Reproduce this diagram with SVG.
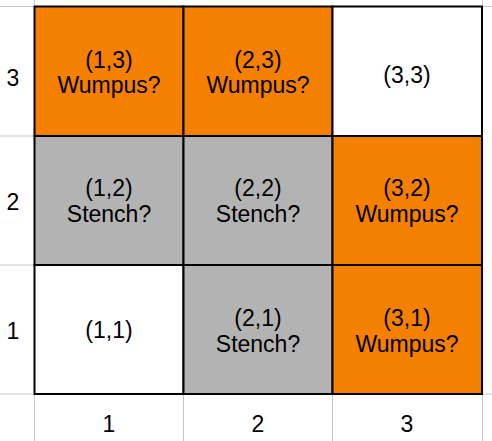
<svg xmlns="http://www.w3.org/2000/svg" width="492" height="441" viewBox="0 0 492 441">
  <style>
    .bg { fill: #ffffff; }
    .guide { stroke: #c6c6c6; stroke-width: 1; fill: none; }
    .cell { stroke: #000000; stroke-width: 2; }
    .orange { fill: #f58000; }
    .gray { fill: #b3b3b3; }
    .white { fill: #ffffff; }
    text { font-family: "Liberation Sans", Arial, sans-serif; font-size: 23px; fill: #000000; text-anchor: middle; }
  </style>
  <rect class="bg" x="0" y="0" width="492" height="441"/>

  <!-- light spreadsheet guide lines -->
  <g id="guides">
    <line class="guide" x1="34.5" y1="0" x2="34.5" y2="441"/>
    <line class="guide" x1="183.5" y1="394" x2="183.5" y2="441"/>
    <line class="guide" x1="332.5" y1="394" x2="332.5" y2="441"/>
    <line class="guide" x1="482.5" y1="0" x2="482.5" y2="441"/>
    <line class="guide" x1="0" y1="6.5" x2="492" y2="6.5"/>
    <line class="guide" x1="0" y1="136" x2="34" y2="136"/>
    <line class="guide" x1="0" y1="265" x2="34" y2="265"/>
    <line class="guide" x1="0" y1="394" x2="492" y2="394"/>
  </g>

  <!-- row headers -->
  <g id="row-headers">
    <text x="13" y="86">3</text>
    <text x="13" y="210">2</text>
    <text x="13" y="339">1</text>
  </g>

  <!-- column headers -->
  <g id="col-headers">
    <text x="109" y="432">1</text>
    <text x="258" y="432">2</text>
    <text x="407" y="432">3</text>
  </g>

  <!-- top row -->
  <g id="cell-1-3">
    <rect class="cell orange" x="34.5" y="6.5" width="149" height="129.5"/>
    <text x="109" y="68">(1,3)</text>
    <text x="109" y="93">Wumpus?</text>
  </g>
  <g id="cell-2-3">
    <rect class="cell orange" x="183.5" y="6.5" width="149" height="129.5"/>
    <text x="258" y="68">(2,3)</text>
    <text x="258" y="93">Wumpus?</text>
  </g>
  <g id="cell-3-3">
    <rect class="cell white" x="332.5" y="6.5" width="149.5" height="129.5"/>
    <text x="407" y="83">(3,3)</text>
  </g>

  <!-- middle row -->
  <g id="cell-1-2">
    <rect class="cell gray" x="34.5" y="136" width="149" height="129"/>
    <text x="109" y="196">(1,2)</text>
    <text x="109" y="222">Stench?</text>
  </g>
  <g id="cell-2-2">
    <rect class="cell gray" x="183.5" y="136" width="149" height="129"/>
    <text x="258" y="196">(2,2)</text>
    <text x="258" y="222">Stench?</text>
  </g>
  <g id="cell-3-2">
    <rect class="cell orange" x="332.5" y="136" width="149.5" height="129"/>
    <text x="407" y="196">(3,2)</text>
    <text x="407" y="222">Wumpus?</text>
  </g>

  <!-- bottom row -->
  <g id="cell-1-1">
    <rect class="cell white" x="34.5" y="265" width="149" height="129"/>
    <text x="109" y="338">(1,1)</text>
  </g>
  <g id="cell-2-1">
    <rect class="cell gray" x="183.5" y="265" width="149" height="129"/>
    <text x="258" y="326">(2,1)</text>
    <text x="258" y="352">Stench?</text>
  </g>
  <g id="cell-3-1">
    <rect class="cell orange" x="332.5" y="265" width="149.5" height="129"/>
    <text x="407" y="326">(3,1)</text>
    <text x="407" y="352">Wumpus?</text>
  </g>
</svg>
